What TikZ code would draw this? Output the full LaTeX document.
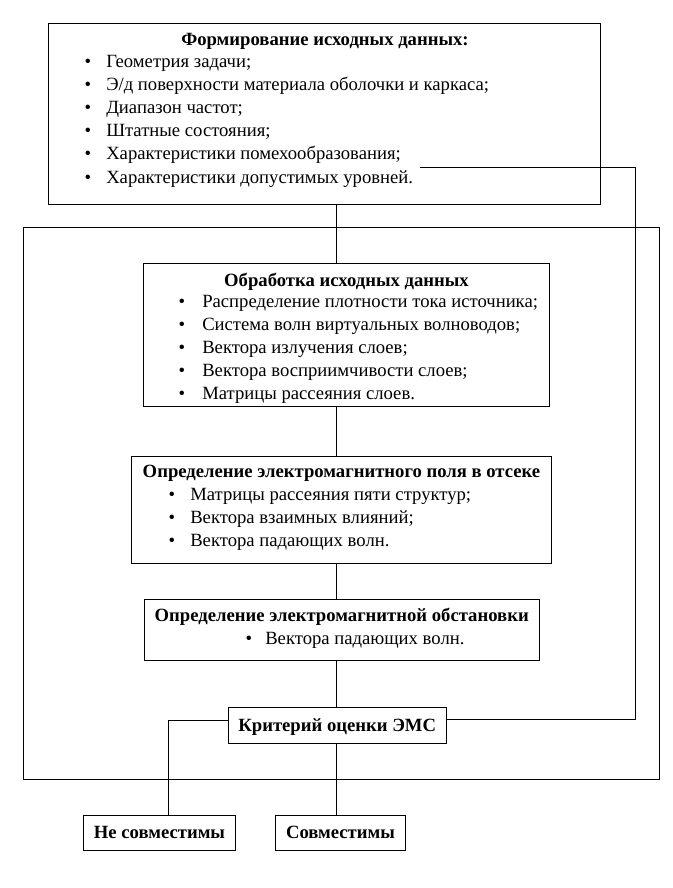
\documentclass[tikz,border=0pt]{standalone}
\usepackage{fontspec}
\setmainfont{Liberation Serif}
\usetikzlibrary{calc,fit}
\newcommand{\fsz}{\fontsize{14pt}{16pt}\selectfont}
\begin{document}
\begin{tikzpicture}[x=0.75pt,y=-0.75pt,
  box/.style={draw,line width=0.7pt,inner sep=0pt},
  ttl/.style={font=\fsz\bfseries,anchor=base,inner sep=0pt},
  itm/.style={font=\fsz,anchor=base west,inner sep=0pt},
  bul/.style={font=\fsz,anchor=base,inner sep=0pt},
  ln/.style={line width=0.7pt}]
\useasboundingbox (0,0) rectangle (672,888);
% outer frame
\node[box,fit={(23.5,227.5) (659.5,779.5)}] (frame) {};
% boxes
\node[box,fill=white,fit={(48.5,23.5) (600.5,204)}] (b1) {};
\node[box,fill=white,fit={(143.5,263.5) (549.5,406.5)}] (b2) {};
\node[box,fill=white,fit={(131.5,456) (551.5,563)}] (b3) {};
\node[box,fill=white,fit={(144,599.5) (539.5,660.5)}] (b4) {};
\node[box,fill=white,fit={(228,707.5) (446.5,743.5)}] (crit) {};
\node[box,fill=white,fit={(83.5,815.5) (235.5,850.5)}] (nesov) {};
\node[box,fill=white,fit={(275.5,815.5) (405.5,850.5)}] (sovm) {};
% box 1 text
\node[ttl] (t1) at (325,46) {Формирование исходных данных:};
\foreach \yy/\txt [count=\i] in {68/{Геометрия задачи;},91/{Э/д поверхности материала оболочки и каркаса;},114/{Диапазон частот;},137/{Штатные состояния;},160/{Характеристики помехообразования;},184/{Характеристики допустимых уровней.}}{
  \node[bul] (b1d\i) at (88,\yy) {\textbullet};
  \node[itm] (b1t\i) at (106,\yy) {\txt};
}
% box 2 text
\node[ttl] (t2) at (346.5,286) {Обработка исходных данных};
\foreach \yy/\txt [count=\i] in {307/{Распределение плотности тока источника;},330/{Система волн виртуальных волноводов;},353/{Вектора излучения слоев;},376/{Вектора восприимчивости слоев;},399/{Матрицы рассеяния слоев.}}{
  \node[bul] (b2d\i) at (182,\yy) {\textbullet};
  \node[itm] (b2t\i) at (202,\yy) {\txt};
}
% box 3 text
\node[ttl] (t3) at (341.5,477) {Определение электромагнитного поля в отсеке};
\foreach \yy/\txt [count=\i] in {500/{Матрицы рассеяния пяти структур;},523/{Вектора взаимных влияний;},546/{Вектора падающих волн.}}{
  \node[bul] (b3d\i) at (172,\yy) {\textbullet};
  \node[itm] (b3t\i) at (190,\yy) {\txt};
}
% box 4 text
\node[ttl] (t4) at (341.75,621) {Определение электромагнитной обстановки};
\node[bul] (b4d1) at (249,644) {\textbullet};
\node[itm] (b4t1) at (265,644) {Вектора падающих волн.};
% other texts
\node[ttl] (t5) at (337.25,731) {Критерий оценки ЭМС};
\node[ttl] (t6) at (159.5,838) {Не совместимы};
\node[ttl] (t7) at (340.5,838) {Совместимы};
% connectors
\coordinate (sp) at (336,0);
\coordinate (fb) at (420,167);
\coordinate (rc) at (635.5,167);
\coordinate (lc) at (168.5,720);
\draw[ln] (b1.south -| sp) -- (b2.north -| sp);
\draw[ln] (b2.south -| sp) -- (b3.north -| sp);
\draw[ln] (b3.south -| sp) -- (b4.north -| sp);
\draw[ln] (b4.south -| sp) -- (crit.north -| sp);
\draw[ln] (crit.south -| sp) -- (sovm.north -| sp);
\draw[ln] (crit.west |- lc) -- (lc) -- (nesov.north -| lc);
\draw[ln] (crit.east |- 0,719) -| (rc) -- (fb);
\end{tikzpicture}
\end{document}
